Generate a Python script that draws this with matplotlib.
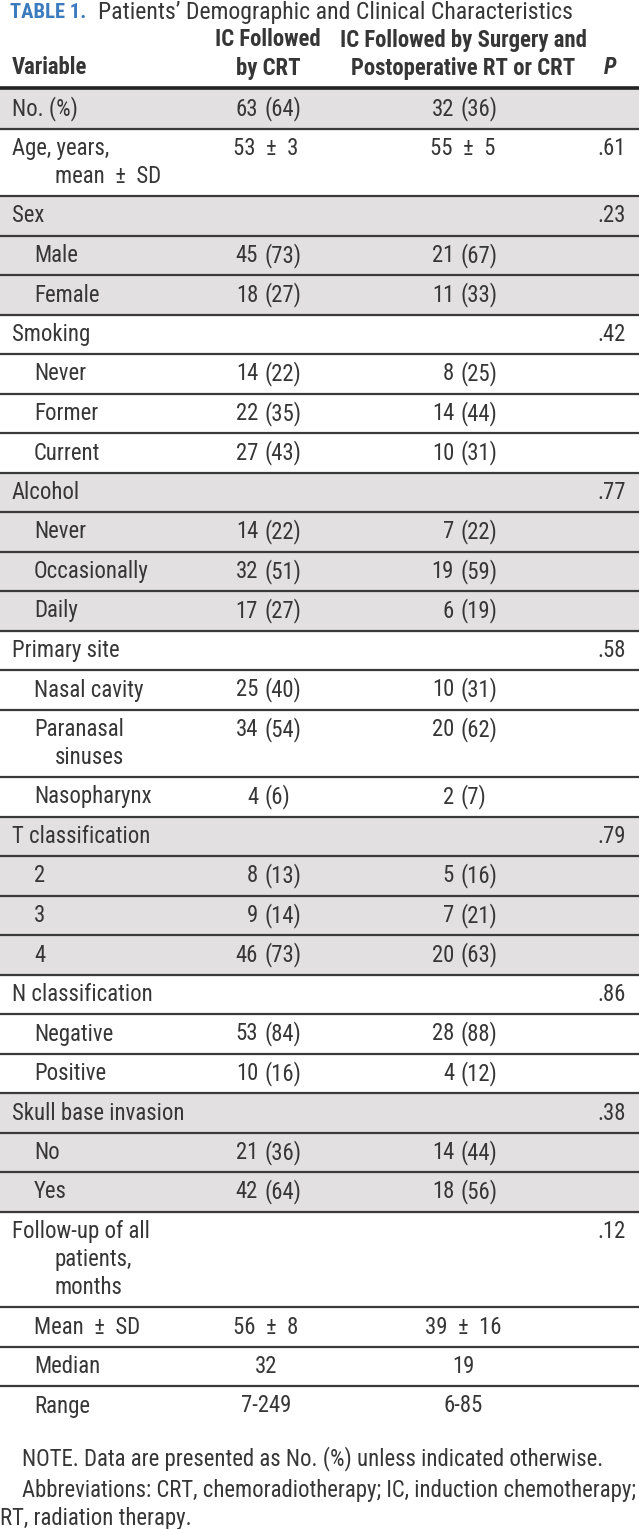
import matplotlib.pyplot as plt
from matplotlib import font_manager
from matplotlib.patches import Rectangle

# table content
groups = [
    ("No. (%)", ["63 (64)"], ["32 (36)"], "", []),
    ("Age, years,\nmean ± SD", ["53 ± 3"], ["55 ± 5"], ".61", []),
    ("Sex", [], [], ".23", [("Male", "45 (73)", "21 (67)"), ("Female", "18 (27)", "11 (33)")]),
    ("Smoking", [], [], ".42", [("Never", "14 (22)", "8 (25)"), ("Former", "22 (35)", "14 (44)"),
                                ("Current", "27 (43)", "10 (31)")]),
    ("Alcohol", [], [], ".77", [("Never", "14 (22)", "7 (22)"), ("Occasionally", "32 (51)", "19 (59)"),
                                ("Daily", "17 (27)", "6 (19)")]),
    ("Primary site", [], [], ".58", [("Nasal cavity", "25 (40)", "10 (31)"),
                                     ("Paranasal\nsinuses", "34 (54)", "20 (62)"),
                                     ("Nasopharynx", "4 (6)", "2 (7)")]),
    ("T classification", [], [], ".79", [("2", "8 (13)", "5 (16)"), ("3", "9 (14)", "7 (21)"),
                                         ("4", "46 (73)", "20 (63)")]),
    ("N classification", [], [], ".86", [("Negative", "53 (84)", "28 (88)"), ("Positive", "10 (16)", "4 (12)")]),
    ("Skull base invasion", [], [], ".38", [("No", "21 (36)", "14 (44)"), ("Yes", "42 (64)", "18 (56)")]),
    ("Follow-up of all\npatients,\nmonths", [], [], ".12", [("Mean ± SD", "56 ± 8", "39 ± 16"),
                                                       ("Median", "32", "19"), ("Range", "7-249", "6-85")]),
]
title = "Patients’ Demographic and Clinical Characteristics"
head2 = ["IC Followed", "by CRT"]
head3 = ["IC Followed by Surgery and", "Postoperative RT or CRT"]
notes = ["NOTE. Data are presented as No. (%) unless indicated otherwise.",
         "Abbreviations: CRT, chemoradiotherapy; IC, induction chemotherapy;",
         "RT, radiation therapy."]

W, H = 639, 1529
TXT = '#363636'
GRAY = '#e2e0e1'

have = {f.name for f in font_manager.fontManager.ttflist}
prefs = ['Liberation Sans Narrow', 'Roboto Condensed', 'Open Sans Condensed', 'Liberation Sans', 'Roboto']
FAM = next((f for f in prefs if f in have), 'DejaVu Sans')
FONT = [FAM, 'DejaVu Sans']

fig = plt.figure(figsize=(W / 100, H / 100), dpi=100)
ax = fig.add_axes([0, 0, 1, 1])
ax.set_xlim(0, W)
ax.set_ylim(H, 0)
ax.axis('off')
rend = fig.canvas.get_renderer()


def fit(s, target, **kw):
    # font size that makes the string about target px wide
    t = ax.text(0, 0, s, family=FONT, fontsize=12, **kw)
    w = t.get_window_extent(rend).width
    t.remove()
    return 12 * target / w


FS = fit(notes[1], 612)
FT = fit(title, 472)
FTB = min(fit("TABLE 1.", 76, weight='bold'), FT * 1.3)
FB = min(fit(head3[0], 251, weight='bold'), FS)


def put(x, y, s, ha='left', **kw):
    kw.setdefault('fontsize', FS)
    kw.setdefault('color', TXT)
    ax.text(x, y, s, ha=ha, va='center', family=FONT, **kw)


def cell(xc, xp, y, s):
    # align on the opening parenthesis when there is one
    if ' (' in s:
        a, b = s.split(' (')
        put(xp - 6, y, a, ha='right')
        put(xp, y, '(' + b)
    else:
        put(xc, y, s.replace(' ± ', '  ±  '), ha='center')


# title and header
put(10, 13, "TABLE 1.", fontsize=FTB, weight='bold', color='#3d7bbf')
put(98, 12, title, fontsize=FT)
put(12, 68, "Variable", weight='bold', fontsize=FB)
put(268, 40, head2[0], ha='center', weight='bold', fontsize=FB)
put(268, 68, head2[1], ha='center', weight='bold', fontsize=FB)
put(463, 40, head3[0], ha='center', weight='bold', fontsize=FB)
put(463, 68, head3[1], ha='center', weight='bold', fontsize=FB)
put(604, 68, "P", weight='bold', style='italic', fontsize=FB)

LH = 28      # line height inside a cell
ROW = 39.5   # single-line row height
y = 89
lines = []
for gi, (label, c2, c3, p, subs) in enumerate(groups):
    y0 = y
    rows = [(label, c2[0] if c2 else "", c3[0] if c3 else "", p, 0)]
    rows += [(s[0], s[1], s[2], "", 1) for s in subs]
    for (lab, v2, v3, pv, lvl) in rows:
        parts = lab.split('\n')
        h = ROW + (len(parts) - 1) * LH
        ty = y + 20
        put(12 + 22 * lvl, ty, parts[0].replace(' ± ', '  ±  '))
        for k, part in enumerate(parts[1:]):
            put(55, ty + LH * (k + 1), part.replace(' ± ', '  ±  '))
        if v2:
            cell(266, 264, ty, v2)
        if v3:
            cell(463, 460, ty, v3)
        if pv:
            put(626, ty, pv, ha='right')
        y += h
        lines.append(y)
    if gi % 2 == 0:
        ax.add_patch(Rectangle((0, y0), W, y - y0, color=GRAY, zorder=0))

ax.plot([0, W], [88, 88], color='#222222', lw=2.6, solid_capstyle='butt')
for yl in lines[:-1]:
    ax.plot([0, W], [yl, yl], color='#3a3a3a', lw=1.6, solid_capstyle='butt')

put(22, 1459, notes[0])
put(22, 1490, notes[1])
put(0, 1519, notes[2])

fig.savefig('out.png', dpi=100)
